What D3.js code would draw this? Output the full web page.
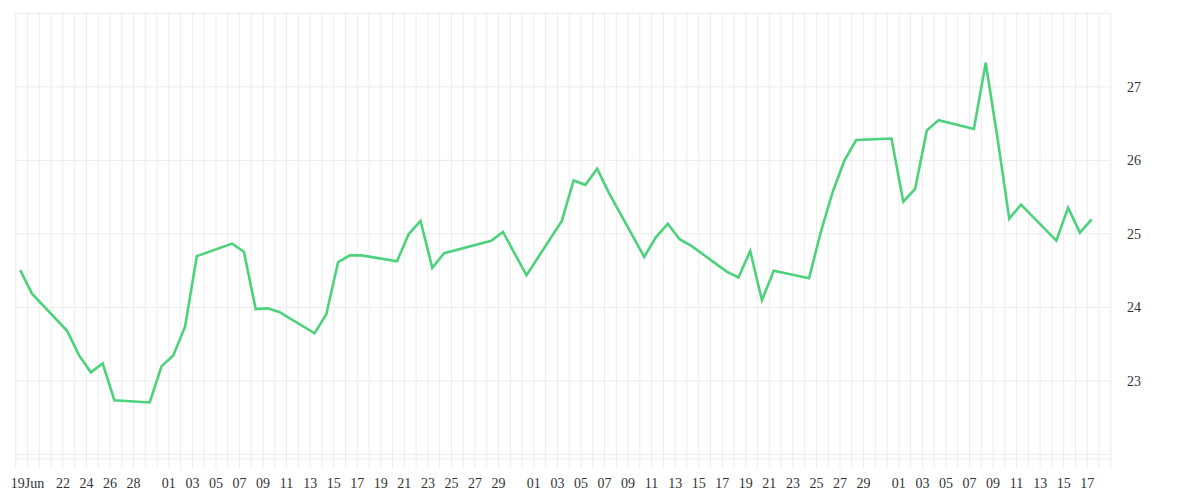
<!DOCTYPE html>
<html>
<head>
<meta charset="utf-8">
<script src="https://cdn.jsdelivr.net/npm/d3@7"></script>
<style>
  html, body { margin: 0; padding: 0; background: #fff; }
  svg { display: block; }
</style>
</head>
<body>
<svg id="chart" width="1200" height="500"></svg>
<script>
// ---- data (2020) ----
const dates = [
  "2020-06-18","2020-06-19","2020-06-22","2020-06-23","2020-06-24","2020-06-25","2020-06-26",
  "2020-06-29","2020-06-30","2020-07-01","2020-07-02","2020-07-03",
  "2020-07-06","2020-07-07","2020-07-08","2020-07-09","2020-07-10",
  "2020-07-13","2020-07-14","2020-07-15","2020-07-16","2020-07-17",
  "2020-07-20","2020-07-21","2020-07-22","2020-07-23","2020-07-24",
  "2020-07-28","2020-07-29","2020-07-31",
  "2020-08-03","2020-08-04","2020-08-05","2020-08-06","2020-08-07",
  "2020-08-10","2020-08-11","2020-08-12","2020-08-13","2020-08-14",
  "2020-08-17","2020-08-18","2020-08-19","2020-08-20","2020-08-21",
  "2020-08-24","2020-08-25","2020-08-26","2020-08-27","2020-08-28",
  "2020-08-31","2020-09-01","2020-09-02","2020-09-03","2020-09-04",
  "2020-09-07","2020-09-08","2020-09-09","2020-09-10","2020-09-11",
  "2020-09-14","2020-09-15","2020-09-16","2020-09-17"
];
const values = [
  24.50,24.18,23.67,23.34,23.11,23.23,22.73,
  22.70,23.19,23.34,23.73,24.69,
  24.86,24.75,23.97,23.98,23.93,
  23.64,23.90,24.61,24.70,24.70,
  24.62,24.99,25.17,24.53,24.73,
  24.90,25.02,24.43,
  25.17,25.72,25.66,25.88,25.55,
  24.68,24.95,25.13,24.92,24.83,
  24.48,24.40,24.76,24.09,24.49,
  24.39,25.02,25.56,25.99,26.27,
  26.29,25.43,25.60,26.40,26.54,
  26.42,27.32,26.30,25.20,25.39,
  24.90,25.35,25.01,25.19
];
const tickDates = [
  "2020-06-19","2020-06-22","2020-06-24","2020-06-26","2020-06-28",
  "2020-07-01","2020-07-03","2020-07-05","2020-07-07","2020-07-09","2020-07-11","2020-07-13","2020-07-15",
  "2020-07-17","2020-07-19","2020-07-21","2020-07-23","2020-07-25","2020-07-27","2020-07-29",
  "2020-08-01","2020-08-03","2020-08-05","2020-08-07","2020-08-09","2020-08-11","2020-08-13","2020-08-15",
  "2020-08-17","2020-08-19","2020-08-21","2020-08-23","2020-08-25","2020-08-27","2020-08-29",
  "2020-09-01","2020-09-03","2020-09-05","2020-09-07","2020-09-09","2020-09-11","2020-09-13","2020-09-15","2020-09-17"
];
const tickLabels = [
  "19Jun","22","24","26","28",
  "01","03","05","07","09","11","13","15","17","19","21","23","25","27","29",
  "01","03","05","07","09","11","13","15","17","19","21","23","25","27","29",
  "01","03","05","07","09","11","13","15","17"
];
const yTickValues = [23, 24, 25, 26, 27];
const yGridValues = [22, 23, 24, 25, 26, 27, 28];
const xStart = "2020-06-18", xEnd = "2020-09-19";
const yMin = 21.94, yMax = 28;
const dataHour = 10; // timestamps fall at 10:00 local

// ---- layout ----
const parse = d3.timeParse("%Y-%m-%d");
const svg = d3.select("#chart");
const plotLeft = 15.3, plotRight = 1110.3, plotTop = 12.8, plotBottom = 458.3;

const x = d3.scaleTime().domain([parse(xStart), parse(xEnd)]).range([plotLeft, plotRight]);
const y = d3.scaleLinear().domain([yMin, yMax]).range([plotBottom, plotTop]);

const points = dates.map((d, i) => ({ t: d3.timeHour.offset(parse(d), dataHour), v: values[i] }));

const gridColor = "#ececec";
const font = "'Liberation Serif', 'Times New Roman', serif";

// vertical daily grid lines (extending into tick marks)
const days = d3.timeDay.range(parse(xStart), d3.timeDay.offset(parse(xEnd), 1));
const xGrid = d3.axisBottom(x).tickValues(days).tickSize(-(plotBottom - plotTop) - 10).tickFormat("");
svg.append("g")
  .attr("transform", `translate(0,${plotBottom + 10})`)
  .call(xGrid)
  .call(g => g.select(".domain").remove())
  .call(g => g.selectAll("line").attr("stroke", gridColor).attr("stroke-width", 1));

// horizontal grid lines
const yGrid = d3.axisLeft(y).tickValues(yGridValues.concat([yMin])).tickSize(-(plotRight - plotLeft)).tickFormat("");
svg.append("g")
  .attr("transform", `translate(${plotLeft},0)`)
  .call(yGrid)
  .call(g => g.select(".domain").remove())
  .call(g => g.selectAll("line").attr("stroke", gridColor).attr("stroke-width", 1));

// x tick labels
const xAxis = d3.axisBottom(x)
  .tickValues(tickDates.map(parse))
  .tickSize(0)
  .tickPadding(0)
  .tickFormat((d, i) => tickLabels[i]);
svg.append("g")
  .attr("transform", `translate(0,${plotBottom})`)
  .call(xAxis)
  .call(g => g.select(".domain").remove())
  .call(g => g.selectAll("text")
    .attr("y", 30).attr("dy", 0)
    .attr("fill", "#333")
    .style("font-family", font).style("font-size", "14px"));

// y tick labels on right
const yAxis = d3.axisRight(y).tickValues(yTickValues).tickSize(0).tickPadding(0).tickFormat(d3.format("d"));
svg.append("g")
  .attr("transform", `translate(1127,0)`)
  .call(yAxis)
  .call(g => g.select(".domain").remove())
  .call(g => g.selectAll("text")
    .attr("x", 0).attr("dy", "0.36em")
    .attr("fill", "#333")
    .style("font-family", font).style("font-size", "14px"));

// line
const line = d3.line().x(d => x(d.t)).y(d => y(d.v));
svg.append("path")
  .datum(points)
  .attr("fill", "none")
  .attr("stroke", "#4dd27c")
  .attr("stroke-width", 2.6)
  .attr("stroke-linejoin", "miter")
  .attr("d", line);
</script>
</body>
</html>
